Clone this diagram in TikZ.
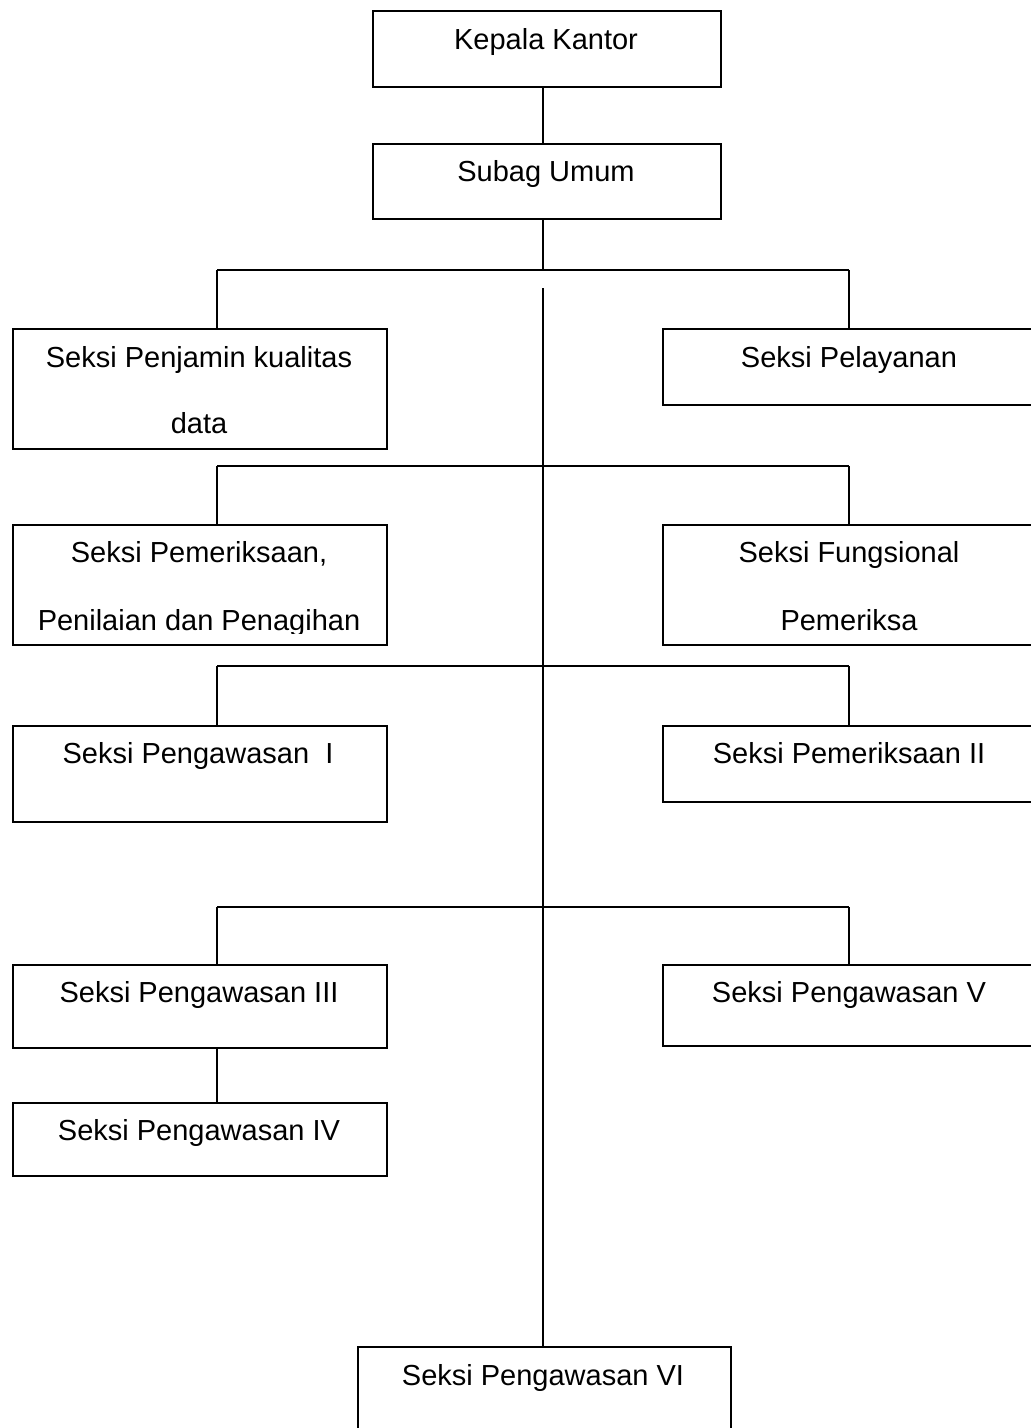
\documentclass[tikz,border=0pt]{standalone}
\usepackage{fontspec}
\setmainfont{Liberation Sans}
\begin{document}
\begin{tikzpicture}[x=1pt,y=-1pt,
  box/.style={draw, line width=1.6pt, inner sep=0pt, anchor=north west},
  lbl/.style={anchor=base, inner sep=0pt, font=\fontsize{29}{35}\selectfont},
  conn/.style={line width=1.4pt}]
\useasboundingbox (0,0) rectangle (1031,1428);
\fill[white] (0,0) rectangle (1031,1428);
\begin{scope}
\clip (0,0) rectangle (1031,1428);
% boxes
\node[box, minimum width=348pt, minimum height=76pt] (kk) at (372,10) {};
\node[box, minimum width=348pt, minimum height=75pt] (su) at (372,143) {};
\node[box, minimum width=374pt, minimum height=120pt] (pj) at (12,328) {};
\node[box, minimum width=400pt, minimum height=76pt] (pl) at (662,328) {};
\node[box, minimum width=374pt, minimum height=120pt] (pm) at (12,524) {};
\node[box, minimum width=400pt, minimum height=120pt] (fu) at (662,524) {};
\node[box, minimum width=374pt, minimum height=96pt] (p1) at (12,725) {};
\node[box, minimum width=400pt, minimum height=76pt] (p2) at (662,725) {};
\node[box, minimum width=374pt, minimum height=83pt] (p3) at (12,964) {};
\node[box, minimum width=400pt, minimum height=81pt] (p5) at (662,964) {};
\node[box, minimum width=374pt, minimum height=73pt] (p4) at (12,1102) {};
\node[box, minimum width=373pt, minimum height=120pt] (p6) at (357,1346) {};
% labels
\node[lbl] (tkk) at (546,49) {Kepala Kantor};
\node[lbl] (tsu) at (546,181) {Subag Umum};
\node[lbl] (tpja) at (199,367) {Seksi Penjamin kualitas};
\node[lbl] (tpjb) at (199,433) {data};
\node[lbl] (tpl) at (849,367) {Seksi Pelayanan};
\node[lbl] (tpma) at (199,562) {Seksi Pemeriksaan,};
\begin{scope}
\clip (12,524) rectangle (386,633);
\node[lbl] (tpmb) at (199,630) {Penilaian dan Penagihan};
\end{scope}
\node[lbl] (tfua) at (849,562) {Seksi Fungsional};
\node[lbl] (tfub) at (849,630) {Pemeriksa};
\node[lbl] (tp1) at (198,763) {Seksi Pengawasan\ \ I};
\node[lbl] (tp2) at (849,763) {Seksi Pemeriksaan II};
\node[lbl] (tp3) at (199,1002) {Seksi Pengawasan III};
\node[lbl] (tp5) at (849,1002) {Seksi Pengawasan V};
\node[lbl] (tp4) at (199,1140) {Seksi Pengawasan IV};
\node[lbl] (tp6) at (543,1385) {Seksi Pengawasan VI};
% connectors
\coordinate (b1l) at (217,270);
\coordinate (b1r) at (849,270);
\coordinate (b1c) at (543,270);
\coordinate (ctop) at (543,288);
\coordinate (b2l) at (217,466);
\coordinate (b2r) at (849,466);
\coordinate (b3l) at (217,666);
\coordinate (b3r) at (849,666);
\coordinate (b4l) at (217,907);
\coordinate (b4r) at (849,907);
\draw[conn] (kk.south -| b1c) -- (su.north -| b1c);
\draw[conn] (su.south -| b1c) -- (b1c);
\draw[conn] (b1l) -- (b1r);
\draw[conn] (b1l) -- (b1l |- pj.north);
\draw[conn] (b1r) -- (b1r |- pl.north);
\draw[conn] (ctop) -- (p6.north -| ctop);
\draw[conn] (b2l) -- (b2r);
\draw[conn] (b2l) -- (b2l |- pm.north);
\draw[conn] (b2r) -- (b2r |- fu.north);
\draw[conn] (b3l) -- (b3r);
\draw[conn] (b3l) -- (b3l |- p1.north);
\draw[conn] (b3r) -- (b3r |- p2.north);
\draw[conn] (b4l) -- (b4r);
\draw[conn] (b4l) -- (b4l |- p3.north);
\draw[conn] (b4r) -- (b4r |- p5.north);
\draw[conn] (p3.south -| b4l) -- (p4.north -| b4l);
\end{scope}
\end{tikzpicture}
\end{document}
